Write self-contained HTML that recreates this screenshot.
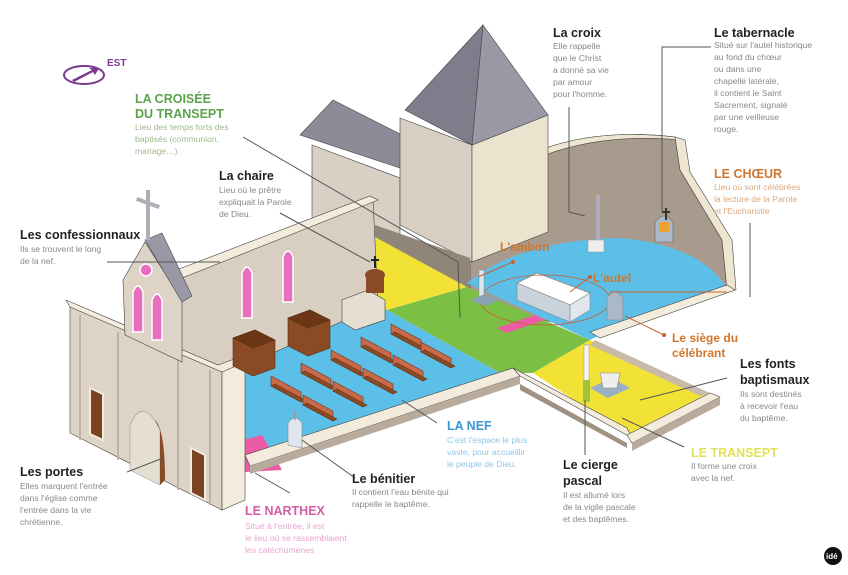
<!DOCTYPE html>
<html><head><meta charset="utf-8"><style>
html,body{margin:0;padding:0;background:#fff;}
svg{display:block;}
text{font-family:"Liberation Sans",sans-serif;}
.t{font-weight:bold;font-size:12.5px;fill:#222;}
.b{font-size:8.6px;fill:#888;}
.l{stroke:#555;stroke-width:1;fill:none;}
.o{stroke:#c8622e;stroke-width:1;fill:none;}
.e{stroke:#444;stroke-width:.6;}
</style></head><body>
<svg width="848" height="575" viewBox="0 0 848 575" xmlns="http://www.w3.org/2000/svg">
<defs>
<g id="pw" stroke="#6b3616" stroke-width=".6"><polygon points="0,0 30,16 30,26 0,10" fill="#c86a4a"/><polygon points="0,10 30,26 34,24 4,8" fill="#8a4b24"/></g>
</defs>
<rect width="848" height="575" fill="#fff"/>
<!-- EST -->
<ellipse cx="84" cy="75" rx="20" ry="9" fill="#fff" stroke="#7a3a8c" stroke-width="2"/>
<path d="M72,80 L92,70 L89,68 L99,68 L95,75 L93,72 L74,82Z" fill="#7a3a8c"/>
<text x="107" y="66" style="font-weight:bold;font-size:10px;fill:#7a3a8c">EST</text>

<!-- back building left of tower -->
<polygon points="312,145 400,178 400,260 312,225" fill="#d9cfc4" class="e"/>
<polygon points="300,135 333,100 412,140 400,168" fill="#8d8b98" class="e"/>
<!-- choir wall -->
<path d="M540,150 Q600,128 675,137 L680,170 L722,240 L727,290 L600,335 L470,300 L470,240 Z" fill="#a89b8e" class="e"/>
<path d="M540,150 Q600,128 675,137 L680,140 Q605,133 545,155Z" fill="#efe6d2" class="e"/>
<path d="M675,137 L685,140 L690,172 L732,240 L736,290 L727,290 L722,240 L680,170Z" fill="#efe6d2" class="e"/>
<!-- tower -->
<polygon points="400,118 472,145 472,262 400,225" fill="#d8cec3" class="e"/>
<polygon points="472,145 548,115 548,232 472,262" fill="#ece3cf" class="e"/>
<polygon points="483,25 405,110 472,145" fill="#7f7c8c" class="e"/>
<polygon points="483,25 548,115 472,145" fill="#9b98a6" class="e"/>
<polygon points="375,225 470,258 470,290 375,245" fill="#8f8578"/>

<!-- floors -->
<polygon points="375,237 467,287 387,310 377,307" fill="#f2e235"/>
<path d="M467,283 Q520,240 620,238 Q700,245 727,288 L600,335 L590,340 Z" fill="#5bbfe8"/>
<polygon points="387,310 467,287 590,340 533,373 500,373" fill="#7cbf45"/>
<polygon points="533,373 590,340 705,395 627,435" fill="#f2e235"/>
<polygon points="225,372 380,304 387,310 500,373 245,455 225,445" fill="#5bbfe8"/>
<polygon points="225,445 262,435 282,470 245,472" fill="#ec5ba6"/>

<!-- low walls -->
<polygon points="245,455 513,368 520,376 250,466" fill="#f3ecdd" class="e"/>
<polygon points="250,466 520,376 520,384 250,474" fill="#b8ab9c"/>
<polygon points="513,368 627,428 632,438 520,376" fill="#f3ecdd" class="e"/>
<polygon points="520,384 627,443 627,448 520,390" fill="#9f9283"/>
<polygon points="627,435 710,393 720,397 632,443" fill="#f3ecdd" class="e"/>
<polygon points="632,443 720,397 720,405 632,451" fill="#b8ab9c"/>
<polygon points="590,332 727,285 735,290 600,338" fill="#f3ecdd" class="e"/>
<polygon points="595,340 710,393 700,396 590,345" fill="#c7baa9"/>

<!-- nave wall -->
<polygon points="170,277 373,200 378,305 225,375 170,352" fill="#d9cec2" class="e"/>
<polygon points="166,274 370,196 378,200 172,282" fill="#f3ecdd" class="e"/>
<g fill="#e86fc0" stroke="#fff" stroke-width="1.5">
<path d="M242,273 q5,-12 10,0 v45 h-10z"/>
<path d="M283,257 q5,-12 10,0 v45 h-10z"/>
</g>

<!-- façade -->
<polygon points="70,305 222,370 222,510 70,433" fill="#ddd3c7" class="e"/>
<polygon points="222,370 245,362 245,500 222,510" fill="#f3ecdd" class="e"/>
<polygon points="66,300 218,365 245,355 245,362 222,372 70,307" fill="#f3ecdd" class="e"/>
<g stroke="#bfb3a5" stroke-width="2"><line x1="80" y1="315" x2="80" y2="440"/><line x1="118" y1="332" x2="118" y2="460"/><line x1="178" y1="357" x2="178" y2="490"/><line x1="210" y1="370" x2="210" y2="505"/></g>
<polygon points="90,388 103,394 103,440 90,434" fill="#7a4422" stroke="#f3ecdd" stroke-width="2"/>
<polygon points="191,448 205,455 205,500 191,493" fill="#7a4422" stroke="#f3ecdd" stroke-width="2"/>
<path d="M130,470 L130,425 Q143,395 160,430 L160,485Z" fill="#e5dfd2" stroke="#999" stroke-width=".6"/>
<path d="M155,420 Q165,430 165,480 L160,485 L160,430Z" fill="#8a4b24"/>
<!-- gable -->
<polygon points="123,280 145,242 182,300 182,362 125,335" fill="#ddd3c7" class="e"/>
<polygon points="145,240 162,233 192,296 182,302" fill="#9b98a6" class="e"/>
<rect x="146" y="190" width="4" height="50" fill="#b0adb8"/>
<rect x="136" y="201" width="24" height="4" fill="#b0adb8" transform="rotate(20 148 203)"/>
<circle cx="146" cy="270" r="6" fill="#e86fc0" stroke="#fff" stroke-width="1.5"/>
<path d="M133,292 q5,-12 10,0 v40 h-10z M152,300 q5,-12 10,0 v40 h-10z" fill="#e86fc0" stroke="#fff" stroke-width="1.5"/>

<!-- confessionals -->
<g stroke="#5a2e14" stroke-width=".6">
<polygon points="233,338 255,330 275,340 275,368 253,376 233,366" fill="#8a4b24"/>
<polygon points="233,338 255,330 275,340 253,348" fill="#6b3616"/>
<polygon points="288,318 310,310 330,320 330,348 308,356 288,346" fill="#8a4b24"/>
<polygon points="288,318 310,310 330,320 308,328" fill="#6b3616"/>
</g>
<!-- pulpit -->
<polygon points="342,300 368,290 385,300 385,320 355,330 342,322" fill="#e5dfd2" class="e"/>
<ellipse cx="375" cy="275" rx="10" ry="6" fill="#8a4b24"/>
<rect x="366" y="275" width="18" height="18" fill="#8a4b24"/>
<rect x="374" y="256" width="2" height="12" fill="#222"/><rect x="371" y="259" width="8" height="2" fill="#222"/>

<!-- pews -->
<use href="#pw" x="271" y="376"/><use href="#pw" x="301" y="363"/><use href="#pw" x="331" y="350"/><use href="#pw" x="361" y="337"/><use href="#pw" x="391" y="324"/>
<use href="#pw" x="303" y="395"/><use href="#pw" x="333" y="381"/><use href="#pw" x="363" y="368"/><use href="#pw" x="393" y="355"/><use href="#pw" x="421" y="342"/>
<!-- benitier -->
<path d="M288,445 v-22 q7,-10 14,0 v25z" fill="#dfe6ee" stroke="#888" stroke-width=".6"/>
<rect x="294" y="410" width="1.5" height="10" fill="#999"/>

<!-- choir furniture -->
<polygon points="517,283 537,273 590,293 570,305" fill="#fff" stroke="#888" stroke-width=".7"/>
<polygon points="517,283 570,305 570,322 517,300" fill="#c8d3dc" stroke="#888" stroke-width=".6"/>
<polygon points="570,305 590,293 590,310 570,322" fill="#dfe6ee" stroke="#888" stroke-width=".6"/>
<polygon points="497,328 535,315 545,320 507,333" fill="#ec5ba6"/>
<ellipse cx="545" cy="300" rx="65" ry="25" fill="none" stroke="#c8622e" stroke-width=".8"/>
<rect x="479" y="270" width="5" height="30" fill="#dfe6ee" stroke="#888" stroke-width=".5"/>
<polygon points="470,300 485,294 500,300 485,306" fill="#8aa1b3"/>
<path d="M607,320 v-22 q8,-12 16,0 v22z" fill="#a9b9c8" stroke="#888" stroke-width=".6"/>
<rect x="596" y="195" width="4" height="45" fill="#b0adb8"/>
<polygon points="588,240 604,240 604,252 588,252" fill="#eee" stroke="#999" stroke-width=".5"/>
<path d="M655,242 v-20 q9,-12 18,0 v20z" fill="#a9b9c8" stroke="#666" stroke-width=".6"/>
<rect x="659" y="222" width="10" height="10" fill="#f0a030"/>
<rect x="665" y="208" width="2" height="12" fill="#333"/><rect x="662" y="211" width="8" height="2" fill="#333"/>
<!-- cierge, fonts -->
<rect x="584" y="345" width="5" height="50" fill="#f7f4e8" stroke="#999" stroke-width=".5"/>
<rect x="583" y="380" width="7" height="22" fill="#9bc53d"/>
<polygon points="590,388 612,378 630,388 608,398" fill="#9ab0c4"/>
<path d="M600,373 h20 l-3,15 h-14z" fill="#eee" stroke="#888" stroke-width=".6"/>

<!-- leader lines -->
<polyline class="l" points="243,137 458,262 460,318"/>
<line class="l" x1="280" y1="213" x2="370" y2="262"/>
<line class="l" x1="107" y1="262" x2="220" y2="262"/>
<polyline class="l" points="569,107 569,212 585,216"/>
<polyline class="l" points="711,47 662,47 662,212"/>
<line class="l" x1="750" y1="223" x2="750" y2="297"/>
<line class="l" x1="727" y1="378" x2="640" y2="400"/>
<line class="l" x1="684" y1="447" x2="622" y2="418"/>
<line class="l" x1="585" y1="455" x2="585" y2="400"/>
<line class="l" x1="437" y1="423" x2="402" y2="400"/>
<line class="l" x1="355" y1="478" x2="302" y2="440"/>
<line class="l" x1="290" y1="493" x2="255" y2="473"/>
<line class="l" x1="127" y1="472" x2="163" y2="458"/>
<line class="o" x1="513" y1="262" x2="478" y2="277"/>
<line class="o" x1="590" y1="277" x2="570" y2="292"/>
<line class="o" x1="664" y1="335" x2="625" y2="316"/>
<line class="o" x1="610" y1="292" x2="727" y2="292"/>
<g fill="#c8622e"><circle cx="513" cy="262" r="2"/><circle cx="590" cy="277" r="2"/><circle cx="664" cy="335" r="2"/></g>

<!-- text -->
<text x="135" y="103" class="t" style="fill:#5aa34a">LA CROISÉE</text>
<text x="135" y="118" class="t" style="fill:#5aa34a">DU TRANSEPT</text>
<text class="b" style="fill:#9db88f"><tspan x="135" y="130">Lieu des temps forts des</tspan><tspan x="135" y="142">baptisés (communion,</tspan><tspan x="135" y="154">mariage…).</tspan></text>
<text x="219" y="180" class="t">La chaire</text>
<text class="b"><tspan x="219" y="193">Lieu où le prêtre</tspan><tspan x="219" y="205">expliquait la Parole</tspan><tspan x="219" y="217">de Dieu.</tspan></text>
<text x="20" y="239" class="t">Les confessionnaux</text>
<text class="b"><tspan x="20" y="252">Ils se trouvent le long</tspan><tspan x="20" y="264">de la nef.</tspan></text>
<text x="553" y="37" class="t">La croix</text>
<text class="b"><tspan x="553" y="49">Elle rappelle</tspan><tspan x="553" y="61">que le Christ</tspan><tspan x="553" y="73">a donné sa vie</tspan><tspan x="553" y="85">par amour</tspan><tspan x="553" y="97">pour l'homme.</tspan></text>
<text x="714" y="37" class="t">Le tabernacle</text>
<text class="b"><tspan x="714" y="48">Situé sur l'autel historique</tspan><tspan x="714" y="60">au fond du chœur</tspan><tspan x="714" y="72">ou dans une</tspan><tspan x="714" y="84">chapelle latérale,</tspan><tspan x="714" y="96">il contient le Saint</tspan><tspan x="714" y="108">Sacrement, signalé</tspan><tspan x="714" y="120">par une veilleuse</tspan><tspan x="714" y="132">rouge.</tspan></text>
<text x="714" y="178" class="t" style="fill:#d0762e">LE CHŒUR</text>
<text class="b" style="fill:#dba77a"><tspan x="714" y="190">Lieu où sont célébrées</tspan><tspan x="714" y="202">la lecture de la Parole</tspan><tspan x="714" y="214">et l'Eucharistie</tspan></text>
<text x="500" y="251" class="t" style="fill:#d0762e;font-size:12px">L'ambon</text>
<text x="593" y="282" class="t" style="fill:#d0762e;font-size:12px">L'autel</text>
<text x="672" y="342" class="t" style="fill:#d0762e;font-size:12px">Le siège du</text>
<text x="672" y="357" class="t" style="fill:#d0762e;font-size:12px">célébrant</text>
<text x="740" y="368" class="t">Les fonts</text>
<text x="740" y="384" class="t">baptismaux</text>
<text class="b"><tspan x="740" y="397">Ils sont destinés</tspan><tspan x="740" y="409">à recevoir l'eau</tspan><tspan x="740" y="421">du baptême.</tspan></text>
<text x="447" y="430" class="t" style="fill:#3c97cf">LA NEF</text>
<text class="b" style="fill:#8fc6e6"><tspan x="447" y="443">C'est l'espace le plus</tspan><tspan x="447" y="455">vaste, pour accueillir</tspan><tspan x="447" y="467">le peuple de Dieu.</tspan></text>
<text x="563" y="469" class="t">Le cierge</text>
<text x="563" y="485" class="t">pascal</text>
<text class="b"><tspan x="563" y="498">Il est allumé lors</tspan><tspan x="563" y="510">de la vigile pascale</tspan><tspan x="563" y="522">et des baptêmes.</tspan></text>
<text x="691" y="457" class="t" style="fill:#e3e05a">LE TRANSEPT</text>
<text class="b"><tspan x="691" y="469">Il forme une croix</tspan><tspan x="691" y="481">avec la nef.</tspan></text>
<text x="352" y="483" class="t">Le bénitier</text>
<text class="b"><tspan x="352" y="495">Il contient l'eau bénite qui</tspan><tspan x="352" y="507">rappelle le baptême.</tspan></text>
<text x="245" y="515" class="t" style="fill:#d25ea7">LE NARTHEX</text>
<text class="b" style="fill:#e8a4cf"><tspan x="245" y="529">Situé à l'entrée, il est</tspan><tspan x="245" y="541">le lieu où se rassemblaient</tspan><tspan x="245" y="553">les catéchumènes</tspan></text>
<text x="20" y="476" class="t">Les portes</text>
<text class="b"><tspan x="20" y="489">Elles marquent l'entrée</tspan><tspan x="20" y="501">dans l'église comme</tspan><tspan x="20" y="513">l'entrée dans la vie</tspan><tspan x="20" y="525">chrétienne.</tspan></text>
<circle cx="833" cy="556" r="9" fill="#111"/>
<text x="826" y="559" style="font-size:8px;font-weight:bold;fill:#fff">idé</text>
</svg>
</body></html>
